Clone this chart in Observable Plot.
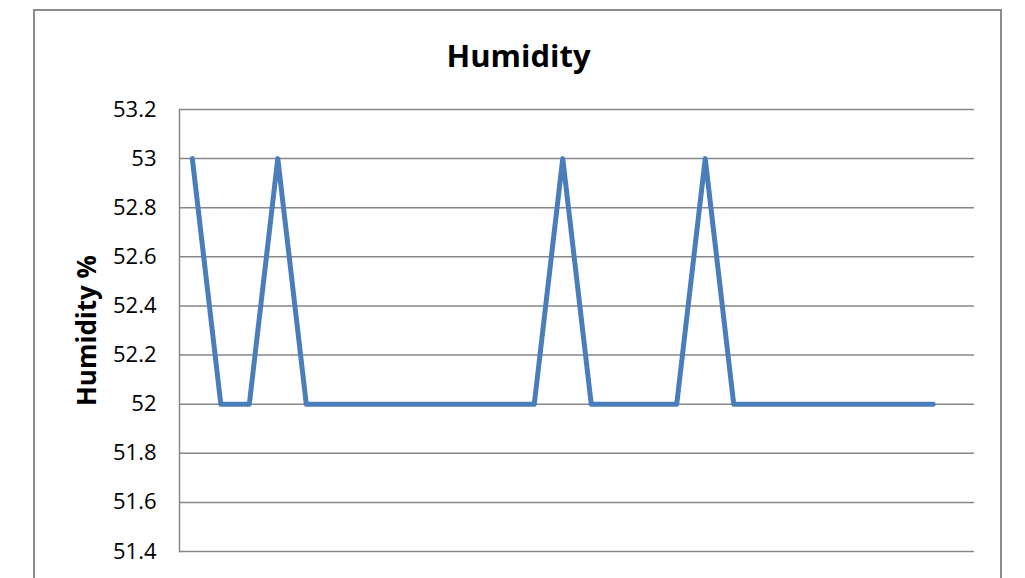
<!DOCTYPE html>
<html>
<head>
<meta charset="utf-8">
<script src="https://cdn.jsdelivr.net/npm/d3@7"></script>
<script src="https://cdn.jsdelivr.net/npm/@observablehq/plot@0.6"></script>
<style>
  html, body { margin: 0; padding: 0; background: #fff; overflow: hidden; width: 1025px; height: 578px; }
  #wrap { position: relative; width: 1025px; height: 578px; overflow: hidden; }
  #border { position: absolute; left: 33px; top: 9px; width: 969px; height: 640px; border: 2px solid #8c8c8c; box-sizing: border-box; }
  #chart { position: absolute; left: 0; top: 0; }
</style>
</head>
<body>
<div id="wrap">
  <div id="border"></div>
  <div id="chart"></div>
</div>
<script>
const titleText = "Humidity";
const yLabel = "Humidity %";
const samples = [1, 2, 3, 4, 5, 6, 7, 8, 9, 10, 11, 12, 13, 14, 15, 16, 17, 18, 19, 20, 21, 22, 23, 24, 25, 26, 27, 28];
const humidity = [53, 52, 52, 53, 52, 52, 52, 52, 52, 52, 52, 52, 52, 53, 52, 52, 52, 52, 53, 52, 52, 52, 52, 52, 52, 52, 52];
const yTicks = [51.4, 51.6, 51.8, 52, 52.2, 52.4, 52.6, 52.8, 53, 53.2];

const rows = humidity.map((v, i) => ({sample: samples[i], value: v}));

const chart = Plot.plot({
  width: 1025,
  height: 578,
  marginTop: 109,
  marginBottom: 27,
  marginLeft: 179,
  marginRight: 51,
  style: {fontFamily: "'Open Sans', sans-serif", color: "#000", background: "transparent"},
  x: {type: "linear", domain: [samples[0] - 0.45, samples[samples.length - 1] + 0.45], axis: null},
  y: {domain: [51.4, 53.2], axis: null},
  marks: [
    Plot.ruleY(yTicks, {stroke: "#868686", strokeWidth: 1.5}),
    Plot.frame({anchor: "left", stroke: "#868686", strokeWidth: 1.5}),
    Plot.axisY(yTicks, {tickSize: 0, tickPadding: 23, fontSize: 22, label: null, tickFormat: d => String(d)}),
    Plot.line(rows, {x: "sample", y: "value", stroke: "#4a7ebb", strokeWidth: 5, strokeLinejoin: "round", strokeLinecap: "round"}),
    Plot.text([titleText], {frameAnchor: "top", dx: -58.5, dy: -65, fontSize: 31, fontWeight: "bold", fill: "#000"}),
    Plot.text([yLabel], {frameAnchor: "left", textAnchor: "middle", dx: -92, rotate: -90, fontSize: 26, fontWeight: "bold", fill: "#000"})
  ]
});
document.getElementById("chart").appendChild(chart);
</script>
</body>
</html>
